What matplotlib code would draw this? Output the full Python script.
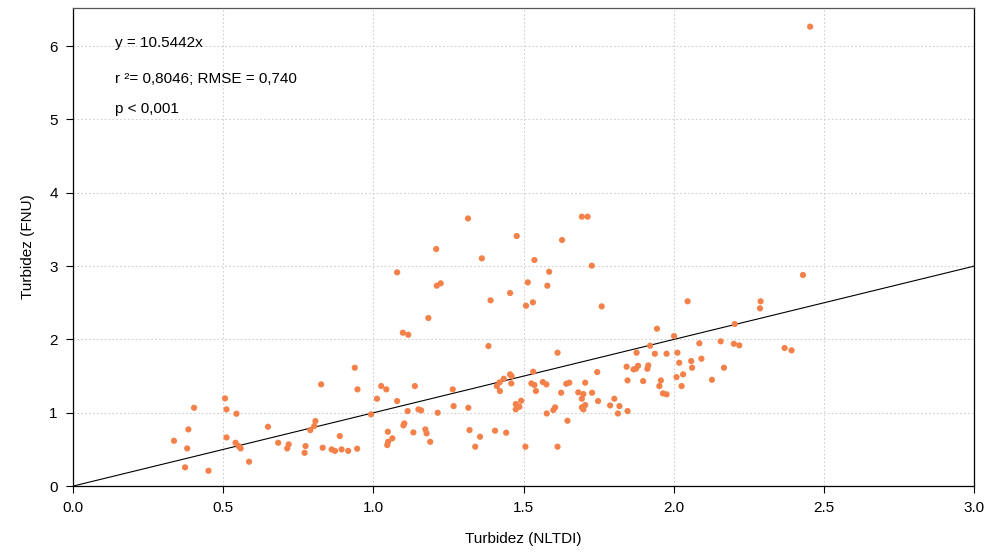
import matplotlib.pyplot as plt
import numpy as np

plt.rcParams['font.family'] = ['Liberation Sans', 'DejaVu Sans']

# Turbidez NLTDI (x) vs Turbidez FNU (y)
nltdi = [0.336, 0.373, 0.380, 0.384, 0.403, 0.451, 0.506, 0.511, 0.511, 0.541,
         0.544, 0.551, 0.558, 0.586, 0.649, 0.683, 0.713, 0.718, 0.771, 0.774,
         0.790, 0.803, 0.807,
         0.826, 0.831, 0.861, 0.872, 0.888, 0.894, 0.916, 0.938, 0.946, 0.947,
         0.992, 1.012, 1.026, 1.043, 1.046, 1.048, 1.049, 1.063, 1.079, 1.100,
         1.103, 1.114, 1.133, 1.138, 1.150, 1.159, 1.173, 1.177, 1.189, 1.214,
         1.264, 1.267, 1.316, 1.320,
         1.079, 1.098, 1.116, 1.183, 1.209, 1.211, 1.224, 1.315,
         1.361, 1.390, 1.455, 1.477, 1.508, 1.514, 1.531, 1.536, 1.579, 1.585,
         1.628, 1.694, 1.713, 1.727, 1.760,
         1.339, 1.355, 1.383, 1.405, 1.411, 1.420, 1.421, 1.434, 1.442, 1.455,
         1.459, 1.460, 1.474, 1.474, 1.486, 1.492, 1.506, 1.526, 1.532, 1.536,
         1.541, 1.564, 1.576, 1.577, 1.599, 1.605, 1.613, 1.613, 1.625, 1.642,
         1.646, 1.652, 1.682, 1.694, 1.694, 1.699, 1.699, 1.705, 1.705, 1.728,
         1.745, 1.748, 1.788, 1.802, 1.814, 1.819,
         1.843, 1.846, 1.846, 1.866, 1.874, 1.876, 1.881, 1.898, 1.912, 1.915,
         1.921, 1.937, 1.944, 1.952, 1.957, 1.964, 1.976, 1.976, 2.001, 2.009,
         2.012, 2.018, 2.026, 2.031, 2.046, 2.058, 2.061, 2.085, 2.092, 2.127,
         2.156, 2.167, 2.200, 2.203, 2.218, 2.287, 2.289, 2.369, 2.392, 2.430,
         2.454]
fnu = [0.618, 0.255, 0.514, 0.773, 1.068, 0.209, 1.196, 1.046, 0.664, 0.591,
       0.987, 0.546, 0.514, 0.332, 0.809, 0.591, 0.514, 0.569, 0.454, 0.546,
       0.764, 0.819, 0.887,
       1.387, 0.523, 0.500, 0.480, 0.682, 0.500, 0.480, 1.614, 0.510, 1.319,
       0.978, 1.191, 1.364, 1.319, 0.559, 0.741, 0.604, 0.651, 1.160, 0.828,
       0.855, 1.023, 0.732, 1.364, 1.046, 1.032, 0.773, 0.719, 0.604, 1.000,
       1.319, 1.091, 1.068, 0.764,
       2.915, 2.092, 2.064, 2.292, 3.233, 2.733, 2.765, 3.650,
       3.106, 2.533, 2.633, 3.410, 2.460, 2.778, 2.506, 3.083, 2.733, 2.923,
       3.356, 3.674, 3.674, 3.006, 2.451,
       0.537, 0.673, 1.910, 0.755, 1.364, 1.415, 1.296, 1.464, 0.728, 1.524,
       1.400, 1.500, 1.119, 1.046, 1.082, 1.164, 0.537, 1.400, 1.560, 1.378,
       1.296, 1.419, 1.387, 0.990, 1.037, 1.074, 1.819, 0.537, 1.273, 1.396,
       0.891, 1.410, 1.278, 1.191, 1.074, 1.255, 1.046, 1.410, 1.105, 1.273,
       1.555, 1.160, 1.100, 1.191, 0.990, 1.091,
       1.628, 1.441, 1.023, 1.592, 1.600, 1.819, 1.641, 1.432, 1.600, 1.646,
       1.914, 1.805, 2.146, 1.364, 1.441, 1.264, 1.251, 1.805, 2.046, 1.487,
       1.819, 1.682, 1.364, 1.524, 2.520, 1.705, 1.614, 1.947, 1.737, 1.450,
       1.974, 1.614, 1.941, 2.210, 1.919, 2.424, 2.520, 1.883, 1.851, 2.879,
       6.266]

fit_slope = 1.0  # line as drawn on the chart (through origin)
line_x = np.array([0.0, 3.0])

fig = plt.figure(figsize=(9.87, 5.53), dpi=100)
ax = fig.add_axes([0.074, 0.121, 0.913, 0.8645])

ax.grid(True, color='#d0d0d0', linestyle=(0, (1.5, 2)), linewidth=0.8)
ax.set_axisbelow(True)
ax.plot(line_x, fit_slope * line_x, color='black', linewidth=0.8, zorder=2)
ax.scatter(nltdi, fnu, s=20, color='#F4814A', edgecolors='none', zorder=3)

ax.set_xlim(0, 3.0)
ax.set_ylim(0, 6.52)
ax.set_xticks(np.arange(0, 3.01, 0.5))
ax.set_xticklabels([f'{v:.1f}' for v in np.arange(0, 3.01, 0.5)])
ax.set_yticks(range(0, 7))
ax.tick_params(direction='out', length=5, width=0.8, labelsize=11, pad=6)

for side in ['left', 'bottom', 'right']:
    ax.spines[side].set_linestyle((0, (1, 1)))
    ax.spines[side].set_linewidth(0.9)
ax.spines['top'].set_color('#555555')
ax.spines['top'].set_linewidth(0.9)

ax.set_xlabel('Turbidez (NLTDI)', fontsize=11, labelpad=12)
ax.set_ylabel('Turbidez (FNU)', fontsize=11, labelpad=10)

ax.text(0.047, 0.926, 'y = 10.5442x', transform=ax.transAxes, fontsize=11, va='center')
ax.text(0.047, 0.851, 'r ²= 0,8046; RMSE = 0,740', transform=ax.transAxes, fontsize=11, va='center')
ax.text(0.047, 0.789, 'p < 0,001', transform=ax.transAxes, fontsize=11, va='center')

fig.savefig('out.png', dpi=100)
